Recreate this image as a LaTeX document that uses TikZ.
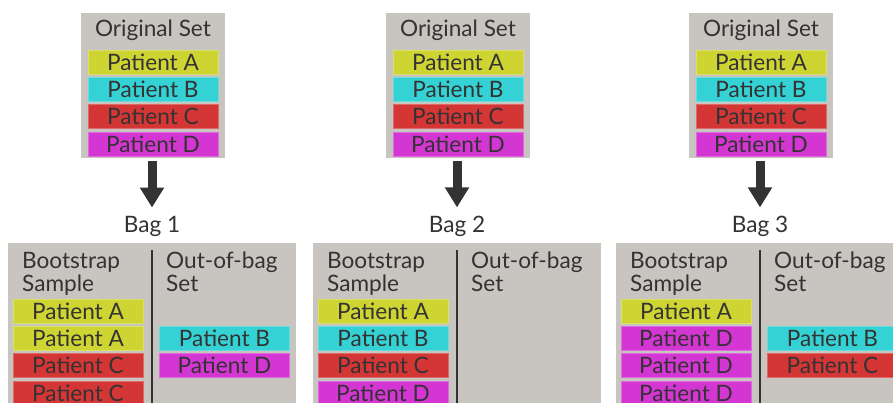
\documentclass[tikz,border=0pt]{standalone}
\usepackage{fontspec}
\setmainfont{Lato}
\usetikzlibrary{arrows.meta}

\definecolor{panel}{RGB}{200,196,192}
\definecolor{ink}{RGB}{52,50,50}
\definecolor{pA}{RGB}{206,213,50}
\definecolor{pB}{RGB}{52,210,212}
\definecolor{pC}{RGB}{212,54,54}
\definecolor{pD}{RGB}{212,54,212}
\newcommand\labelsize{\fontsize{22.6}{23}\selectfont}

\tikzset{
  panelbox/.style={rectangle, fill=panel, draw=none, inner sep=0pt},
  patient/.style={rectangle, fill=p#1, draw=p#1!75!white, line width=0.5pt,
    minimum width=130pt, minimum height=24pt, inner sep=0pt,
    font=\labelsize, text=ink},
  caption/.style={font=\labelsize, text=ink, inner sep=0pt},
  flow/.style={draw=ink, line width=9pt, -{Triangle[width=23pt,length=20pt]},
    shorten <=3pt, shorten >=9pt},
  divider/.style={draw=ink, line width=1.4pt},
}

% One bag: original set, arrow, bag caption, bootstrap panel with its left column
% #1 index, #2 centre x, #3 letters of the bootstrap sample
\newcommand\bagunit[3]{%
  \node[panelbox, minimum width=144pt, minimum height=145pt, anchor=north]
    (orig#1) at (#2+1,13) {};
  \node[caption] (otitle#1) at (#2+1,30) {Original Set};
  \foreach \L [count=\i from 0] in {A,B,C,D}
    \node[patient=\L] (o#1\L) at (#2+1,62+27.3*\i) {Patient \L};
  \node[caption, anchor=base] (bag#1) at (#2,233) {Bag #1};
  \draw[flow] (orig#1.south -| bag#1.north) -- (bag#1.north);
  \node[panelbox, minimum width=288pt, minimum height=200pt, anchor=north]
    (panel#1) at (#2,243) {};
  \draw[divider] ([yshift=-7pt]panel#1.north) -- (panel#1.south);
  \node[caption, anchor=north west, align=left] (boot#1) at (#2-130,252)
    {Bootstrap\\Sample};
  \node[caption, anchor=north west, align=left] (oob#1) at (#2+14,252)
    {Out-of-bag\\Set};
  \foreach \L [count=\i from 0] in {#3}
    \node[patient=\L] (b#1l\i) at (#2-74,311+27.3*\i) {Patient \L};
}

\begin{document}
\begin{tikzpicture}[x=1pt,y=-1pt]
  \useasboundingbox (0,0) rectangle (893,403);
  \clip (0,0) rectangle (893,403);

  \bagunit{1}{152}{A,A,C,C}
  \bagunit{2}{457}{A,B,C,D}
  \bagunit{3}{760}{A,D,D,D}

  % out-of-bag columns
  \foreach \L [count=\i from 1] in {B,D}
    \node[patient=\L] (b1r\i) at (152+72.5,311+27.3*\i) {Patient \L};
  \foreach \L [count=\i from 1] in {B,C}
    \node[patient=\L] (b3r\i) at (760+72.5,311+27.3*\i) {Patient \L};
\end{tikzpicture}
\end{document}
